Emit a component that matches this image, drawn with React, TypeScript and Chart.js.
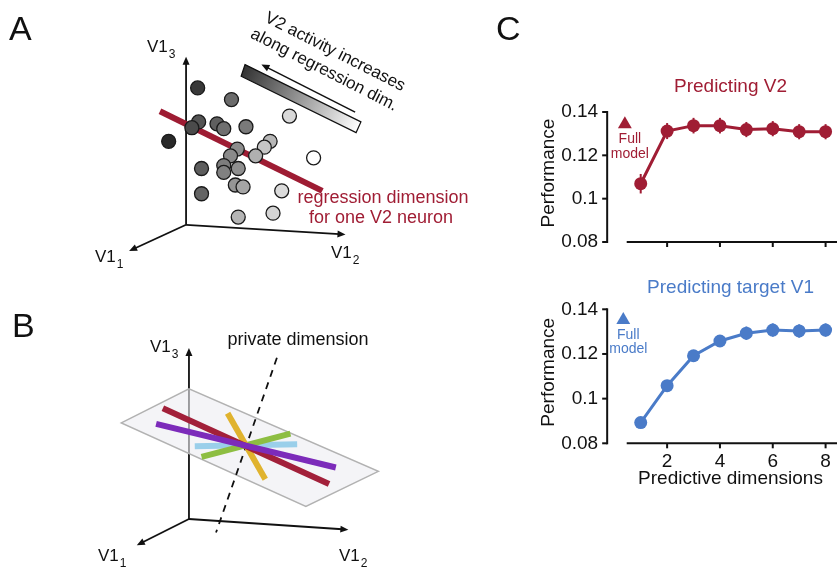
import React, { useEffect, useRef } from "react";
import { Chart, registerables } from "chart.js";

Chart.register(...registerables);

const FONT = "'Liberation Sans', Arial, Helvetica, sans-serif";
const RED = "#A01D34";
const BLUE = "#4A7BC8";

// ---------------- Panel C data ----------------
const dims = [1, 2, 3, 4, 5, 6, 7, 8];
const perfV2 = [0.1069, 0.1312, 0.1337, 0.1337, 0.1319, 0.1323, 0.1309, 0.1309];
const errV2 = [0.0045, 0.0037, 0.0036, 0.0036, 0.0035, 0.0035, 0.0035, 0.0035];
const fullModelV2 = 0.1343;
const perfV1 = [0.0893, 0.1058, 0.1192, 0.1258, 0.1293, 0.1307, 0.1303, 0.1307];
const errV1 = [0.0018, 0.0018, 0.002, 0.0025, 0.003, 0.003, 0.003, 0.003];
const fullModelV1 = 0.1352;
const yTickValues = [0.08, 0.1, 0.12, 0.14];
const yTickLabels = ["0.08", "0.1", "0.12", "0.14"];
const xTickValues = [2, 4, 6, 8];
const xTickLabels = ["2", "4", "6", "8"];

// ---------------- Panel A schematic data (schematic plane coordinates) ----------------
const cloudX = [196, 231, 291, 197, 190, 216, 223, 246, 166, 271, 265, 237, 230, 256, 316, 200, 223, 223, 238, 235, 243, 283, 200, 274, 238];
const cloudY = [82, 94, 111, 117, 123, 119, 124, 122, 137, 137, 143, 145, 152, 152, 154, 165, 162, 169, 165, 182, 184, 188, 191, 211, 215];
// V2 activity of each trial (1 = high / dark, 0 = low / white)
const cloudActivity = [0.88, 0.66, 0.17, 0.76, 0.8, 0.71, 0.64, 0.59, 0.95, 0.32, 0.26, 0.51, 0.52, 0.35, 0.0, 0.72, 0.58, 0.56, 0.5, 0.47, 0.4, 0.16, 0.69, 0.19, 0.33];
const regressionX = [157, 325];
const regressionY = [106, 188];
const axesAOrigin = [184, 223];
const axesATipX = [184, 349, 125];
const axesATipY = [50, 233, 250];
const activityBarX = [245, 365, 360, 241];
const activityBarY = [58, 117, 128, 70];
const activityArrowX = [359, 262];
const activityArrowY = [107, 58];

// ---------------- Panel B schematic data ----------------
const axesBOrigin = [187, 526];
const axesBTipX = [187, 352, 133];
const axesBTipY = [350, 537, 553];
const planeX = [117, 187, 383, 308];
const planeY = [427, 392, 477, 513];
const privateDimX = [278, 215];
const privateDimY = [360, 540];
const dimRedX = [160, 332];
const dimRedY = [412, 490];
const dimPurpleX = [153, 339];
const dimPurpleY = [428, 473];
const dimYellowX = [227, 266];
const dimYellowY = [417, 485];
const dimGreenX = [200, 292];
const dimGreenY = [462, 438];
const dimBlueX = [193, 299];
const dimBlueY = [451, 449];

const pts = (xs: number[], ys: number[]) => xs.map((x, i) => ({ x, y: ys[i] }));
const gray = (a: number) => {
  const g = Math.round(255 - a * 225);
  return `rgb(${g},${g},${g})`;
};

function arrowHead(ctx: CanvasRenderingContext2D, fx: number, fy: number, tx: number, ty: number, len = 8, half = 3.5) {
  const ang = Math.atan2(ty - fy, tx - fx);
  ctx.beginPath();
  ctx.moveTo(tx, ty);
  ctx.lineTo(tx - len * Math.cos(ang) + half * Math.sin(ang), ty - len * Math.sin(ang) - half * Math.cos(ang));
  ctx.lineTo(tx - len * Math.cos(ang) - half * Math.sin(ang), ty - len * Math.sin(ang) + half * Math.cos(ang));
  ctx.closePath();
  ctx.fill();
}

function subLabel(ctx: CanvasRenderingContext2D, x: number, y: number, main: string, sub: string) {
  ctx.save();
  ctx.fillStyle = "#111";
  ctx.textAlign = "left";
  ctx.textBaseline = "alphabetic";
  ctx.font = `17px ${FONT}`;
  ctx.fillText(main, x, y);
  const w = ctx.measureText(main).width;
  ctx.font = `12px ${FONT}`;
  ctx.fillText(sub, x + w + 1, y + 6);
  ctx.restore();
}

const leftPlugin = {
  id: "leftSchematics",
  beforeDatasetsDraw(chart: any) {
    const ctx: CanvasRenderingContext2D = chart.ctx;
    const X = (v: number) => chart.scales.x.getPixelForValue(v);
    const Y = (v: number) => chart.scales.y.getPixelForValue(v);
    ctx.save();
    ctx.strokeStyle = "#111";
    ctx.fillStyle = "#111";
    ctx.lineWidth = 1.8;
    const drawAxes = (o: number[], tx: number[], ty: number[]) => {
      tx.forEach((t, i) => {
        const fx = X(o[0]), fy = Y(o[1]), ex = X(t), ey = Y(ty[i]);
        const ang = Math.atan2(ey - fy, ex - fx);
        ctx.beginPath();
        ctx.moveTo(fx, fy);
        ctx.lineTo(ex - 6 * Math.cos(ang), ey - 6 * Math.sin(ang));
        ctx.stroke();
        arrowHead(ctx, fx, fy, ex, ey);
      });
    };
    drawAxes(axesAOrigin, axesATipX, axesATipY);
    drawAxes(axesBOrigin, axesBTipX, axesBTipY);
    // plane in panel B
    ctx.beginPath();
    planeX.forEach((x, i) => (i === 0 ? ctx.moveTo(X(x), Y(planeY[i])) : ctx.lineTo(X(x), Y(planeY[i]))));
    ctx.closePath();
    ctx.fillStyle = "rgba(236,236,241,0.6)";
    ctx.fill();
    ctx.strokeStyle = "#b2b2b2";
    ctx.lineWidth = 1.5;
    ctx.stroke();
    ctx.restore();
  },
  afterDatasetsDraw(chart: any) {
    const ctx: CanvasRenderingContext2D = chart.ctx;
    const X = (v: number) => chart.scales.x.getPixelForValue(v);
    const Y = (v: number) => chart.scales.y.getPixelForValue(v);
    ctx.save();
    // activity gradient bar
    const gx0 = (X(activityBarX[0]) + X(activityBarX[3])) / 2;
    const gy0 = (Y(activityBarY[0]) + Y(activityBarY[3])) / 2;
    const gx1 = (X(activityBarX[1]) + X(activityBarX[2])) / 2;
    const gy1 = (Y(activityBarY[1]) + Y(activityBarY[2])) / 2;
    const grad = ctx.createLinearGradient(gx0, gy0, gx1, gy1);
    grad.addColorStop(0, "#333");
    grad.addColorStop(1, "#fff");
    ctx.beginPath();
    activityBarX.forEach((x, i) => (i === 0 ? ctx.moveTo(X(x), Y(activityBarY[i])) : ctx.lineTo(X(x), Y(activityBarY[i]))));
    ctx.closePath();
    ctx.fillStyle = grad;
    ctx.fill();
    ctx.strokeStyle = "#111";
    ctx.lineWidth = 1.2;
    ctx.stroke();
    // arrow
    const ax0 = X(activityArrowX[0]), ay0 = Y(activityArrowY[0]);
    const ax1 = X(activityArrowX[1]), ay1 = Y(activityArrowY[1]);
    ctx.lineWidth = 1.5;
    ctx.beginPath();
    ctx.moveTo(ax0, ay0);
    ctx.lineTo(ax1 + 5, ay1 + 2.5);
    ctx.stroke();
    ctx.fillStyle = "#111";
    arrowHead(ctx, ax0, ay0, ax1, ay1, 8, 3.5);

    // rotated annotation
    ctx.font = `17px ${FONT}`;
    ctx.textAlign = "center";
    ctx.textBaseline = "middle";
    const rot = (27 * Math.PI) / 180;
    ctx.save();
    ctx.translate(335, 52);
    ctx.rotate(rot);
    ctx.fillText("V2 activity increases", 0, 0);
    ctx.restore();
    ctx.save();
    ctx.translate(324, 70);
    ctx.rotate(rot);
    ctx.fillText("along regression dim.", 0, 0);
    ctx.restore();

    // regression text
    ctx.fillStyle = RED;
    ctx.font = `18px ${FONT}`;
    ctx.textBaseline = "alphabetic";
    ctx.fillText("regression dimension", 383, 203);
    ctx.fillText("for one V2 neuron", 381, 223);

    // private dimension
    ctx.fillStyle = "#111";
    ctx.fillText("private dimension", 298, 345);

    // panel letters
    ctx.font = `34px ${FONT}`;
    ctx.textAlign = "left";
    ctx.fillText("A", 9, 40);
    ctx.fillText("B", 12, 337);
    ctx.restore();

    subLabel(ctx, 147, 52, "V1", "3");
    subLabel(ctx, 95, 262, "V1", "1");
    subLabel(ctx, 331, 258, "V1", "2");
    subLabel(ctx, 150, 352, "V1", "3");
    subLabel(ctx, 98, 561, "V1", "1");
    subLabel(ctx, 339, 561, "V1", "2");
  },
};

type CCfg = {
  title: string;
  titleOffset: number;
  color: string;
  values: number[];
  errors: number[];
  full: number;
  fullX: number;
  showXLabels: boolean;
  showLetter: boolean;
};

function makeCPlugin(cfg: CCfg) {
  const yAxisAt = -0.27;
  return {
    id: "cpanel",
    beforeDatasetsDraw(chart: any) {
      const ctx: CanvasRenderingContext2D = chart.ctx;
      const xs = chart.scales.x, ys = chart.scales.y;
      const ax = xs.getPixelForValue(yAxisAt);
      const yTop = ys.getPixelForValue(0.14);
      const yBot = ys.getPixelForValue(0.08);
      ctx.save();
      ctx.strokeStyle = "#111";
      ctx.lineWidth = 2;
      ctx.beginPath();
      ctx.moveTo(ax, yTop - 1);
      ctx.lineTo(ax, yBot + 1);
      ctx.stroke();
      yTickValues.forEach((v) => {
        const y = ys.getPixelForValue(v);
        ctx.beginPath();
        ctx.moveTo(ax - 5, y);
        ctx.lineTo(ax, y);
        ctx.stroke();
      });
      ctx.beginPath();
      ctx.moveTo(xs.getPixelForValue(0.47), yBot);
      ctx.lineTo(xs.getPixelForValue(8.6), yBot);
      ctx.stroke();
      xTickValues.forEach((v) => {
        const x = xs.getPixelForValue(v);
        ctx.beginPath();
        ctx.moveTo(x, yBot);
        ctx.lineTo(x, yBot + 5);
        ctx.stroke();
      });
      // error bars
      ctx.strokeStyle = cfg.color;
      ctx.lineWidth = 2;
      cfg.values.forEach((v, i) => {
        const x = xs.getPixelForValue(dims[i]);
        ctx.beginPath();
        ctx.moveTo(x, ys.getPixelForValue(v - cfg.errors[i]));
        ctx.lineTo(x, ys.getPixelForValue(v + cfg.errors[i]));
        ctx.stroke();
      });
      ctx.restore();
    },
    afterDraw(chart: any) {
      const ctx: CanvasRenderingContext2D = chart.ctx;
      const xs = chart.scales.x, ys = chart.scales.y;
      const ax = xs.getPixelForValue(yAxisAt);
      const yTop = ys.getPixelForValue(0.14);
      const yBot = ys.getPixelForValue(0.08);
      ctx.save();
      ctx.fillStyle = "#111";
      ctx.font = `19px ${FONT}`;
      ctx.textAlign = "right";
      ctx.textBaseline = "middle";
      yTickValues.forEach((v, i) => ctx.fillText(yTickLabels[i], ax - 9, ys.getPixelForValue(v)));
      if (cfg.showXLabels) {
        ctx.textAlign = "center";
        xTickValues.forEach((v, i) => ctx.fillText(xTickLabels[i], xs.getPixelForValue(v), yBot + 18));
        ctx.textBaseline = "alphabetic";
        ctx.fillText("Predictive dimensions", xs.getPixelForValue(4.4), yBot + 40.5);
      }
      // y title
      ctx.save();
      ctx.translate(ax - 58, (yTop + yBot) / 2 - 4);
      ctx.rotate(-Math.PI / 2);
      ctx.textAlign = "center";
      ctx.textBaseline = "middle";
      ctx.fillText("Performance", 0, 0);
      ctx.restore();
      // title
      ctx.fillStyle = cfg.color;
      ctx.textAlign = "center";
      ctx.textBaseline = "alphabetic";
      ctx.fillText(cfg.title, xs.getPixelForValue(4.4), yTop + cfg.titleOffset);
      // Full model annotation
      const fx = xs.getPixelForValue(cfg.fullX) + 5;
      const fy = ys.getPixelForValue(cfg.full);
      ctx.font = `14px ${FONT}`;
      ctx.textBaseline = "middle";
      ctx.fillText("Full", fx, fy + 15);
      ctx.fillText("model", fx, fy + 29.5);
      if (cfg.showLetter) {
        ctx.fillStyle = "#111";
        ctx.font = `34px ${FONT}`;
        ctx.textAlign = "left";
        ctx.textBaseline = "alphabetic";
        ctx.fillText("C", 6, 40);
      }
      ctx.restore();
    },
  };
}

function makeCChart(canvas: HTMLCanvasElement, cfg: CCfg, padding: any) {
  return new Chart(canvas, {
    type: "line",
    data: {
      datasets: [
        {
          data: pts(dims, cfg.values),
          borderColor: cfg.color,
          backgroundColor: cfg.color,
          borderWidth: 3,
          pointRadius: 6.5,
          pointBackgroundColor: cfg.color,
          pointBorderWidth: 0,
          tension: 0,
          clip: false as any,
        },
        {
          data: [{ x: cfg.fullX, y: cfg.full }],
          showLine: false,
          pointStyle: "triangle",
          pointRadius: 8,
          pointBackgroundColor: cfg.color,
          pointBorderColor: cfg.color,
          pointBorderWidth: 0,
          clip: false as any,
        },
      ],
    },
    options: {
      animation: false,
      responsive: false,
      maintainAspectRatio: false,
      events: [],
      layout: { padding },
      plugins: { legend: { display: false }, tooltip: { enabled: false }, title: { display: false } },
      scales: {
        x: { type: "linear", min: 0, max: 9, display: false },
        y: { type: "linear", min: 0.08, max: 0.14, display: false },
      },
    },
    plugins: [makeCPlugin(cfg)],
  } as any);
}

export default function App() {
  const leftRef = useRef<HTMLCanvasElement>(null);
  const topRef = useRef<HTMLCanvasElement>(null);
  const botRef = useRef<HTMLCanvasElement>(null);

  useEffect(() => {
    const line = (xs: number[], ys: number[], color: string, width: number, extra: any = {}) => ({
      data: pts(xs, ys),
      showLine: true,
      borderColor: color,
      borderWidth: width,
      borderCapStyle: "butt",
      pointRadius: 0,
      ...extra,
    });
    const left = new Chart(leftRef.current!, {
      type: "scatter",
      data: {
        datasets: [
          {
            data: pts(cloudX, cloudY),
            pointRadius: 7,
            pointBackgroundColor: cloudActivity.map(gray),
            pointBorderColor: "#1a1a1a",
            pointBorderWidth: 1.3,
          },
          line(regressionX, regressionY, "#9E1C33", 6),
          line(dimPurpleX, dimPurpleY, "#7C2BBA", 6),
          line(dimRedX, dimRedY, "#A2203A", 6),
          line(dimYellowX, dimYellowY, "#E0B32E", 6),
          line(dimGreenX, dimGreenY, "#8DBE42", 6),
          line(dimBlueX, dimBlueY, "#9ACFEA", 6),
          line(privateDimX, privateDimY, "#111", 1.8, { borderDash: [7, 6] }),
        ],
      },
      options: {
        animation: false,
        responsive: false,
        maintainAspectRatio: false,
        events: [],
        layout: { padding: 0 },
        plugins: { legend: { display: false }, tooltip: { enabled: false } },
        scales: {
          x: { type: "linear", min: 0, max: 490, display: false },
          y: { type: "linear", min: 0, max: 570, reverse: true, display: false },
        },
      },
      plugins: [leftPlugin],
    } as any);

    const top = makeCChart(
      topRef.current!,
      { title: "Predicting V2", titleOffset: -20, color: RED, values: perfV2, errors: errV2, full: fullModelV2, fullX: 0.4, showXLabels: false, showLetter: true },
      { left: 124.3, right: 4.95, top: 112, bottom: 4 }
    );
    const bot = makeCChart(
      botRef.current!,
      { title: "Predicting target V1", titleOffset: -16, color: BLUE, values: perfV1, errors: errV1, full: fullModelV1, fullX: 0.34, showXLabels: true, showLetter: false },
      { left: 124.3, right: 4.95, top: 54.3, bottom: 56.7 }
    );
    return () => {
      left.destroy();
      top.destroy();
      bot.destroy();
    };
  }, []);

  return (
    <div style={{ position: "absolute", left: 0, top: 0, width: 837, height: 570, overflow: "hidden", background: "#fff" }}>
      <canvas ref={leftRef} width={490} height={570} style={{ position: "absolute", left: 0, top: 0, width: 490, height: 570 }} />
      <canvas ref={topRef} width={370} height={250} style={{ position: "absolute", left: 490, top: 0, width: 370, height: 250 }} />
      <canvas ref={botRef} width={370} height={245} style={{ position: "absolute", left: 490, top: 255, width: 370, height: 245 }} />
    </div>
  );
}
